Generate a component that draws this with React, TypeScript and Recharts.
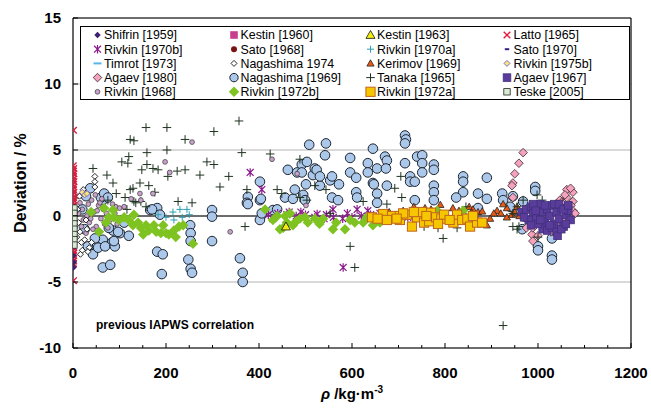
import React from "react";
import {
  ScatterChart,
  Scatter,
  XAxis,
  YAxis,
  CartesianGrid,
  ReferenceLine,
} from "recharts";

const FONT = 'Arial, "Liberation Sans", sans-serif';

type Pt = [number, number];

// x ticks every 50, labels only on the 200s
const X_TICKS = [0, 50, 100, 150, 200, 250, 300, 350, 400, 450, 500, 550, 600, 650, 700, 750, 800, 850, 900, 950, 1000, 1050, 1100, 1150, 1200];
const Y_TICKS = [-10, -5, 0, 5, 10, 15];

const shifrin1959: Pt[] = [[1, -3.9], [1.5, -3.5], [0.8, -3.0]];
const kestin1960: Pt[] = [[1.2, 0.3], [0.9, -0.4]];
const kestin1963: Pt[] = [[0.8, 0.5], [458, -0.8]];
const latto1965: Pt[] = [
  [1, 6.5], [0.5, 3.8], [1.5, 3.6], [0.8, 3.4], [1.8, 3.2], [0.6, 3.0], [1.2, 2.8], [2, 2.6],
  [0.7, 2.4], [1.4, 2.2], [0.9, 2.0], [1.6, 1.8], [0.5, 1.6], [1.1, 1.4], [1.9, 1.2], [0.8, 1.0],
  [1.3, 0.8], [0.6, 0.6], [1.7, 0.4], [1.0, 0.2], [0.5, 0.0], [1.5, -0.2], [0.9, -0.4], [1.2, -0.6],
  [0.6, -0.8], [1.8, -1.0], [1.1, -1.2], [0.7, -1.4], [1.4, -1.6], [0.9, -1.8], [1.6, -2.0], [0.5, -2.2],
  [1.2, -2.4], [0.8, -2.6], [1.5, -2.8], [1.0, -3.0], [0.6, -3.2], [1.3, -3.4], [0.9, -3.6], [1.1, -4.9],
];
const rivkin1970b: Pt[] = [
  [0.5, -3.2], [0.5, -3.6], [1, -2.8], [381, 3.3], [406, 2.0], [559, 0.5], [611, 0.5], [634, 0.4], [581, -3.9],
  [420, 0.1], [440, 0.2], [460, 0.1], [480, 0.0], [500, 0.1], [520, -0.1], [540, -0.2], [560, -0.1], [580, -0.2],
  [600, -0.1], [620, 0.0], [640, 0.1], [660, 0.2], [680, 0.1], [700, 0.0], [720, -0.1], [465, 0.3], [490, 0.3],
  [525, 0.15], [545, 0.1], [430, -0.2], [590, 0.2],
];
const sato1968: Pt[] = [[1, -1.0], [2, -0.5]];
const rivkin1970a: Pt[] = [[230, 0.5], [245, 0.5], [235, -0.1], [217, -0.3], [200, -0.1], [183, 0.1], [215, 0.3], [250, 0.1]];
const sato1970: Pt[] = [[1, 0.0], [1.5, -1.3]];
const timrot1973: Pt[] = [[3, 0.4], [2.5, -0.9]];
const nagashima1974: Pt[] = [
  [47, 3.0], [47, 2.6], [47, 2.2], [10, 0.5], [12, -0.5], [15, -1.2], [18, -2.0], [20, -2.6], [25, -1.8],
  [30, -1.0], [35, -2.4], [8, -1.6], [14, 1.5], [22, 2.0], [28, -0.3], [40, -2.0], [16, -2.9], [32, -2.7],
];
const kerimov1969: Pt[] = [
  [733, 0.7], [757, 0.6], [800, 0.1], [830, 0.4], [852, 0.7], [860, 0.5], [867, -0.1], [790, 0.85], [817, 0.6],
  [858, 0.25], [871, 0.3], [890, -0.7], [912, 0.4], [920, 0.2], [933, -0.1], [933, 0.6], [944, 0.1], [905, 0.2],
  [897, -0.2], [950, 0.3], [960, 0.0], [975, -0.2], [880, 0.35], [840, 0.25], [770, 0.5], [710, 0.4], [680, 0.3],
  [820, -0.2], [925, 0.9], [955, 0.7],
];
const rivkin1975b: Pt[] = [[20, 1.8], [25, 1.6], [30, 1.7]];
const agaev1980: Pt[] = [
  [968, 4.8], [959, 4.0], [950, 3.2], [946, 2.5], [944, 2.3], [946, 1.4], [987, -1.4], [989, -1.9], [989, -0.9],
  [1047, 1.2], [1062, 2.0], [1075, 1.8], [1062, 1.4], [1075, 1.1], [1071, 0.8], [1075, 0.4], [1062, 0.1],
  [1052, -0.3], [1043, -0.8], [1028, -1.2], [1067, -0.2], [1080, 0.2], [1058, 1.6], [1070, 2.1], [1040, 0.9],
  [1000, -1.5], [975, -0.9], [1050, 1.0],
];
const nagashima1969: Pt[] = [
  [37, 2.1], [64, 1.2], [64, -3.9], [80, -3.7], [43, -2.3], [64, -1.8], [84, -2.0], [86, -1.1], [101, -1.3],
  [60, 1.4], [67, 1.7], [75, 1.4], [32, -2.3], [47, -1.7], [43, -2.9], [54, -2.4], [69, -2.3], [90, -2.3],
  [77, -0.9], [97, -1.2], [88, -1.9], [20, 0.5], [25, -1.0], [28, 1.5], [110, -0.5], [120, -1.5],
  [166, 0.45], [181, 0.6], [187, 0.1], [170, 0.5], [181, -2.7], [193, -2.9], [191, -4.4], [252, -0.7],
  [253, -1.3], [253, -1.9], [248, -3.3], [253, -4.0], [256, -4.3], [299, 0.45], [299, -0.05], [299, -1.9],
  [359, -3.2], [365, -4.3], [365, -5.0], [376, 1.45], [374, 1.0], [376, 0.9], [402, 2.6], [402, 1.2],
  [402, -0.3], [406, 0.2], [404, 1.3], [430, 0.45], [439, 0.5], [456, 1.4], [462, 3.5], [473, 1.3],
  [477, 2.0], [482, 3.3], [492, 3.9], [492, 3.3], [495, 1.6], [499, 1.2], [501, 2.4], [503, 4.1],
  [508, 5.4], [516, 3.1], [520, 3.6], [524, 3.5], [531, 2.3], [531, 3.0], [542, 4.6], [544, 5.5],
  [553, 2.7], [557, 3.0], [557, 1.4], [570, 1.2], [572, 2.4], [596, 4.4], [596, 3.3], [609, 2.9],
  [609, 1.8], [611, 1.4], [634, 4.0], [634, 3.3], [645, 5.1], [645, 2.5], [654, 3.6], [654, 1.7],
  [671, 4.5], [675, 4.2], [673, 3.6], [647, 2.4], [675, 2.3], [654, 1.0], [714, 6.1], [716, 5.8],
  [714, 5.5], [714, 4.0], [740, 4.5], [751, 4.6], [751, 4.0], [751, 3.3], [725, 3.0], [725, 2.6],
  [735, 2.6], [735, 1.2], [776, 3.9], [776, 3.5], [776, 2.3], [776, 1.8], [776, 1.2], [839, 3.0],
  [839, 2.6], [839, 1.8], [824, 1.4], [871, 1.7], [890, 2.9], [890, 1.3], [871, 0.6], [923, 1.7],
  [925, 1.2], [946, 1.5], [940, 0.7], [968, 1.1], [994, 2.2], [994, 1.9], [966, -1.0], [1000, -2.3],
  [1000, -2.6], [1030, -1.7], [1030, -3.0], [1030, -3.3],
];
const tanaka1965: Pt[] = [
  [157, 6.7], [202, 6.7], [357, 7.2], [303, 6.4], [123, 5.8], [131, 5.7], [241, 5.8], [159, 4.8], [202, 5.0],
  [120, 4.5], [363, 4.8], [424, 4.7], [105, 4.1], [118, 4.0], [288, 4.1], [303, 3.9], [159, 3.9], [148, 3.5],
  [172, 3.6], [183, 3.5], [241, 3.5], [224, 3.4], [43, 3.6], [73, 3.1], [204, 3.0], [273, 3.1], [335, 3.0],
  [86, 2.5], [144, 2.5], [163, 2.3], [316, 2.2], [374, 2.0], [123, 2.0], [129, 2.1], [176, 1.8], [226, 1.1],
  [256, 1.0], [75, 1.2], [112, 1.4], [370, -0.8], [488, 4.3], [488, 1.4], [439, 2.0], [449, 1.7], [520, 2.3],
  [503, 1.2], [596, -2.3], [606, -3.9], [553, 0.2], [544, 2.0], [624, 1.1], [705, 3.0], [692, 2.1], [707, 1.4],
  [675, 0.9], [785, -0.9], [796, -1.7], [826, -0.9], [755, -0.8], [845, 0.7], [955, 0.7], [946, -0.8],
  [968, 1.2], [998, 1.6], [1009, 1.2], [955, -1.0], [959, -0.8], [1000, -1.6], [946, 0.2], [925, -8.3],
  [93, 1.7], [131, 1.1], [135, 1.0], [146, 1.1], [157, 0.7], [116, 0.5], [86, 0.4],
];
const agaev1967: Pt[] = [
  [965, 0.3], [975, 0.5], [985, 0.7], [990, 0.2], [995, -0.2], [1000, 0.6], [1005, 0.9], [1010, 0.3],
  [1015, -0.4], [1020, 0.5], [1025, 0.0], [1030, 0.8], [1035, -0.6], [1040, 0.3], [1045, -0.2], [1050, 0.6],
  [1055, -0.8], [1060, 0.1], [1065, 0.4], [1070, -0.3], [1010, -1.0], [1020, -1.1], [1030, -0.9], [1040, -1.2],
  [1042, -1.5], [980, -0.3], [990, 0.9], [1000, -0.6], [1015, 0.8], [1025, -0.7], [1035, 0.9], [1045, 0.9],
  [1055, 0.5], [985, -0.7], [970, -0.1], [1005, -0.3], [1050, -1.0], [1060, -0.6], [1065, 0.8], [995, 0.4],
];
const rivkin1968: Pt[] = [
  [256, 5.6], [198, 4.1], [208, 3.3], [172, 1.7], [144, 1.7], [146, 1.2], [125, 1.3], [110, 0.7], [92, 0.7],
  [428, 4.3], [338, -1.2], [482, 3.2], [501, 0.8], [10, 1.5], [15, 1.0], [20, 0.5], [25, 1.8], [30, 0.0],
  [35, -0.5], [40, 1.2], [45, 0.3], [50, -0.8], [55, 0.8], [60, -0.2], [65, 0.5], [18, -0.8], [28, -1.3],
  [38, -0.2], [48, 1.6], [58, 1.0], [68, -0.6], [72, 0.2], [80, -0.3], [85, 0.9], [12, 0.2], [22, -0.3],
  [33, 0.9], [43, -1.0], [52, 0.4], [62, 1.3], [75, -0.9], [90, 0.2], [100, 0.6], [95, -0.6],
];
const rivkin1972b: Pt[] = [
  [39, 0.3], [67, 0.6], [86, 0.45], [88, -0.1], [99, -0.3], [110, -0.1], [120, -0.3], [129, -0.7], [140, -0.5],
  [146, -0.9], [157, -0.7], [163, -1.1], [174, -0.7], [179, -1.2], [189, -1.3], [200, -1.3], [206, -1.4],
  [217, -1.1], [228, -0.8], [237, -0.7], [221, -1.6], [151, -1.4], [56, -1.2], [258, -2.1], [71, -0.5],
  [77, -0.1], [194, -0.7], [131, 0.1], [413, 0.5], [445, -1.0], [439, 0], [456, 0], [460, -0.5], [473, -0.7],
  [488, -0.2], [499, -0.1], [505, -0.5], [520, -0.2], [538, -0.2], [566, -0.5], [559, -1.0], [585, -1.0],
  [596, -0.3], [606, -0.5], [624, -0.5], [645, -0.7], [632, -0.1], [660, -0.5], [682, -0.3], [740, 0.3],
  [783, 0.4], [839, 0.4], [430, -0.3], [452, -0.9], [467, 0.2], [480, -0.4], [530, -0.6],
];
const rivkin1972a: Pt[] = [
  [643, -0.1], [667, 0.15], [686, 0], [703, 0], [703, -0.3], [718, 0.1], [729, -0.8], [740, -0.1], [751, 0.3],
  [755, -0.5], [766, -0.4], [770, 0.25], [781, -0.1], [792, -0.2], [798, 0.1], [818, -0.5], [826, 0.1],
  [837, -0.3], [848, -0.2], [854, -0.8], [869, -0.5], [880, -0.5], [785, -0.6], [710, 0.2], [733, 0.3],
  [810, -0.3], [760, 0], [696, -0.2], [675, -0.3], [655, -0.2], [860, 0],
];
const teske2005: Pt[] = [[2, 0.6], [2, 0.2], [2, -0.2], [2, -0.6], [2, -1.0], [2, -1.4], [2, -1.8], [2, -2.2]];

type Kind = "circle" | "square" | "diamond" | "triangle" | "x" | "plus" | "star" | "dash";
interface Mk {
  kind: Kind;
  s: number;
  fill?: string;
  stroke?: string;
  sw?: number;
}

function drawMarker(m: Mk, cx: number, cy: number) {
  const { s } = m;
  const fill = m.fill ?? "none";
  const stroke = m.stroke ?? "none";
  const sw = m.sw ?? 1;
  switch (m.kind) {
    case "circle":
      return <circle cx={cx} cy={cy} r={s} fill={fill} stroke={stroke} strokeWidth={sw} />;
    case "square":
      return <rect x={cx - s} y={cy - s} width={2 * s} height={2 * s} fill={fill} stroke={stroke} strokeWidth={sw} />;
    case "diamond":
      return (
        <path d={`M${cx},${cy - s}L${cx + s},${cy}L${cx},${cy + s}L${cx - s},${cy}Z`} fill={fill} stroke={stroke} strokeWidth={sw} />
      );
    case "triangle":
      return (
        <path d={`M${cx},${cy - s}L${cx + s},${cy + s * 0.75}L${cx - s},${cy + s * 0.75}Z`} fill={fill} stroke={stroke} strokeWidth={sw} />
      );
    case "x":
      return (
        <path d={`M${cx - s},${cy - s}L${cx + s},${cy + s}M${cx - s},${cy + s}L${cx + s},${cy - s}`} stroke={stroke} strokeWidth={sw} />
      );
    case "plus":
      return <path d={`M${cx - s},${cy}L${cx + s},${cy}M${cx},${cy - s}L${cx},${cy + s}`} stroke={stroke} strokeWidth={sw} />;
    case "star":
      return (
        <path
          d={`M${cx - s * 0.8},${cy - s * 0.8}L${cx + s * 0.8},${cy + s * 0.8}M${cx - s * 0.8},${cy + s * 0.8}L${cx + s * 0.8},${cy - s * 0.8}M${cx},${cy - s}L${cx},${cy + s}`}
          stroke={stroke}
          strokeWidth={sw}
        />
      );
    case "dash":
      return <path d={`M${cx - s},${cy}L${cx + s},${cy}`} stroke={stroke} strokeWidth={sw} />;
  }
}

interface Series {
  name: string;
  data: Pt[];
  mk: Mk;
}

const S: Record<string, Series> = {
  shifrin: { name: "Shifrin [1959]", data: shifrin1959, mk: { kind: "diamond", s: 3.2, fill: "#3d1f70" } },
  kestin60: { name: "Kestin [1960]", data: kestin1960, mk: { kind: "square", s: 3.8, fill: "#c8408c" } },
  kestin63: { name: "Kestin [1963]", data: kestin1963, mk: { kind: "triangle", s: 4.5, fill: "#f4ee10", stroke: "#111", sw: 0.8 } },
  latto: { name: "Latto [1965]", data: latto1965, mk: { kind: "x", s: 3.3, stroke: "#e0183c", sw: 1.4 } },
  rivkin70b: { name: "Rivkin [1970b]", data: rivkin1970b, mk: { kind: "star", s: 4.3, stroke: "#8a1a8c", sw: 1.2 } },
  sato68: { name: "Sato [1968]", data: sato1968, mk: { kind: "circle", s: 3, fill: "#7a1214" } },
  rivkin70a: { name: "Rivkin [1970a]", data: rivkin1970a, mk: { kind: "plus", s: 3.5, stroke: "#2e9fb0", sw: 1 } },
  sato70: { name: "Sato [1970]", data: sato1970, mk: { kind: "dash", s: 2.2, stroke: "#3a2080", sw: 2 } },
  timrot: { name: "Timrot [1973]", data: timrot1973, mk: { kind: "dash", s: 4, stroke: "#5ab4e8", sw: 2 } },
  naga74: { name: "Nagashima 1974", data: nagashima1974, mk: { kind: "diamond", s: 3, fill: "#fff", stroke: "#111", sw: 0.9 } },
  kerimov: { name: "Kerimov [1969]", data: kerimov1969, mk: { kind: "triangle", s: 3.6, fill: "#ea5a12", stroke: "#222", sw: 0.8 } },
  rivkin75b: { name: "Rivkin [1975b]", data: rivkin1975b, mk: { kind: "diamond", s: 3, fill: "#f2e97a", stroke: "#7a5ac8", sw: 0.9 } },
  agaev80: { name: "Agaev [1980]", data: agaev1980, mk: { kind: "diamond", s: 4.3, fill: "#f5a3bd", stroke: "#3a2430", sw: 0.8 } },
  naga69: { name: "Nagashima [1969]", data: nagashima1969, mk: { kind: "circle", s: 4.8, fill: "#abc7e9", stroke: "#1c2530", sw: 1 } },
  tanaka: { name: "Tanaka [1965]", data: tanaka1965, mk: { kind: "plus", s: 4.3, stroke: "#1e3320", sw: 1 } },
  agaev67: { name: "Agaev [1967]", data: agaev1967, mk: { kind: "square", s: 3.8, fill: "#5a3d9a", stroke: "#41307e", sw: 0.8 } },
  rivkin68: { name: "Rivkin [1968]", data: rivkin1968, mk: { kind: "circle", s: 2.4, fill: "#c9a2cc", stroke: "#333", sw: 0.7 } },
  rivkin72b: { name: "Rivkin [1972b]", data: rivkin1972b, mk: { kind: "diamond", s: 5.2, fill: "#7ec321" } },
  rivkin72a: { name: "Rivkin [1972a]", data: rivkin1972a, mk: { kind: "square", s: 4.6, fill: "#f6c700", stroke: "#c0651a", sw: 1 } },
  teske: { name: "Teske [2005]", data: teske2005, mk: { kind: "square", s: 3.2, fill: "#d7ebd2", stroke: "#222", sw: 0.8 } },
};

// bottom to top
const DRAW_ORDER = [
  "naga69", "agaev80", "rivkin70b", "kerimov", "tanaka", "rivkin68", "naga74", "rivkin70a", "rivkin75b",
  "rivkin72b", "kestin63", "rivkin72a", "agaev67", "sato68", "kestin60", "sato70", "timrot", "latto", "teske", "shifrin",
];

const LEGEND_ROWS = [
  ["shifrin", "kestin60", "kestin63", "latto"],
  ["rivkin70b", "sato68", "rivkin70a", "sato70"],
  ["timrot", "naga74", "kerimov", "rivkin75b"],
  ["agaev80", "naga69", "tanaka", "agaev67"],
  ["rivkin68", "rivkin72b", "rivkin72a", "teske"],
];

const XTick = (p: any) => {
  const { x, y, payload } = p;
  const v = payload.value as number;
  const major = v % 200 === 0;
  return (
    <g>
      <line x1={x} x2={x} y1={y} y2={y - (major ? 5 : 3)} stroke="#000" strokeWidth={1} />
      {major && (
        <text x={x} y={y + 19} dy="0.71em" textAnchor="middle" fontFamily={FONT} fontWeight="bold" fontSize={15} fill="#000">
          {v}
        </text>
      )}
    </g>
  );
};

const YTick = (p: any) => {
  const { x, y, payload } = p;
  return (
    <g>
      <line x1={x} x2={x + 5} y1={y} y2={y} stroke="#000" strokeWidth={1} />
      <text x={x - 12} y={y} dy="0.36em" textAnchor="end" fontFamily={FONT} fontWeight="bold" fontSize={15} fill="#000">
        {payload.value}
      </text>
    </g>
  );
};

function Legend() {
  return (
    <div
      style={{
        position: "absolute",
        left: 80,
        top: 26,
        width: 548,
        height: 72,
        border: "1px solid #000",
        background: "#fff",
        boxSizing: "content-box",
      }}
    >
      <svg width={548} height={72} style={{ display: "block" }}>
        {LEGEND_ROWS.map((row, r) =>
          row.map((key, c) => {
            const sr = S[key];
            const mx = 16.5 + c * 136.5;
            const my = 8 + r * 14.2;
            return (
              <g key={key}>
                {drawMarker(sr.mk.kind === "circle" && sr.mk.s > 4 ? { ...sr.mk, s: 4.2 } : sr.mk, mx, my)}
                <text x={mx + 6.5} y={my} dy="0.36em" fontFamily={FONT} fontSize={12.4} fill="#000">
                  {sr.name}
                </text>
              </g>
            );
          })
        )}
      </svg>
    </div>
  );
}

export default function App() {
  return (
    <div style={{ position: "absolute", left: 0, top: 0, width: 651, height: 413, background: "#fff", fontFamily: FONT }}>
      <ScatterChart width={651} height={413} margin={{ top: 18, right: 20, bottom: 0, left: 0 }}>
        <CartesianGrid horizontal vertical={false} stroke="#b4b4b4" />
        <XAxis
          type="number"
          dataKey="x"
          domain={[0, 1200]}
          ticks={X_TICKS}
          interval={0}
          tickSize={0}
          tickMargin={0}
          tickLine={false}
          axisLine={{ stroke: "#000", strokeWidth: 1.2 }}
          tick={XTick}
          height={65}
          allowDataOverflow
        />
        <YAxis
          type="number"
          dataKey="y"
          domain={[-10, 15]}
          ticks={Y_TICKS}
          interval={0}
          tickSize={0}
          tickMargin={0}
          tickLine={false}
          axisLine={{ stroke: "#000", strokeWidth: 1.2 }}
          tick={YTick}
          width={73}
          allowDataOverflow
        />
        <ReferenceLine y={15} stroke="#000" strokeWidth={1} />
        <ReferenceLine x={1200} stroke="#000" strokeWidth={1.2} />
        <ReferenceLine y={0} stroke="#000" strokeWidth={1.2} />
        {DRAW_ORDER.map((key) => {
          const sr = S[key];
          return (
            <Scatter
              key={key}
              name={sr.name}
              data={sr.data.map(([x, y]) => ({ x, y }))}
              isAnimationActive={false}
              shape={(p: any) => drawMarker(sr.mk, p.cx, p.cy)}
            />
          );
        })}
        <text x={96} y={329} fontFamily={FONT} fontWeight="bold" fontSize={12} fill="#000">
          previous IAPWS correlation
        </text>
        <text x={25.5} y={183} transform="rotate(-90, 25.5, 183)" textAnchor="middle" fontFamily={FONT} fontWeight="bold" fontSize={16} fill="#000">
          Deviation / %
        </text>
        <text x={352} y={399} textAnchor="middle" fontFamily={FONT} fontWeight="bold" fontSize={15} fill="#000">
          <tspan fontStyle="italic">ρ</tspan>
          <tspan> /kg·m</tspan>
          <tspan dy={-6} fontSize={10}>-3</tspan>
        </text>
      </ScatterChart>
      <Legend />
    </div>
  );
}
